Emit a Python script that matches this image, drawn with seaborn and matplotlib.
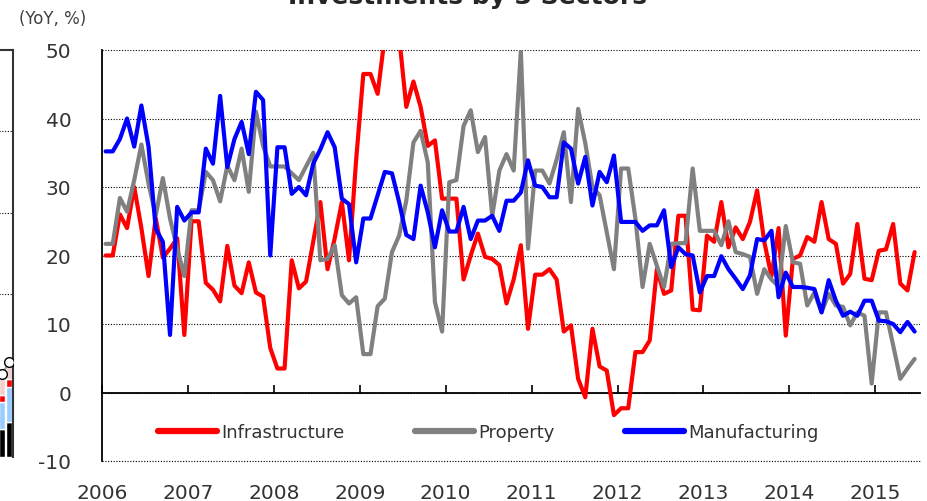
import numpy as np
import pandas as pd
import matplotlib.pyplot as plt
import seaborn as sns

# monthly YoY growth (%), Jan 2006 - Jun 2015
infra = [20, 20, 26, 24, 30, 24, 17, 25.5, 19.7, 21,
         22.5, 8.4, 25, 25, 16, 15, 13.3, 21.4, 15.6, 14.5,
         19, 14.6, 14, 6.5, 3.5, 3.5, 19.3, 15.2, 16.2, 22,
         27.8, 18, 22.5, 27.8, 19.3, 34, 46.5, 46.5, 43.6, 52,
         56, 52, 41.7, 45.4, 41.7, 36, 36.8, 28.3, 28.3, 28.3,
         16.5, 20, 23.2, 19.8, 19.5, 18.6, 13, 16.5, 21.5, 9.3,
         17.2, 17.2, 18, 16.5, 8.9, 9.8, 2, -0.7, 9.3, 3.8,
         3.2, -3.3, -2.3, -2.3, 5.9, 5.9, 7.6, 18, 14.4, 14.9,
         25.8, 25.8, 12.1, 12, 22.9, 22, 27.8, 21.2, 24.1, 22.4,
         24.9, 29.5, 22, 17, 24, 8.3, 19.5, 20, 22.7, 22,
         27.8, 22.4, 21.7, 15.9, 17.3, 24.6, 16.6, 16.4, 20.7, 20.9,
         24.6, 15.9, 14.9, 20.5]
prop = [21.7, 21.7, 28.4, 26.4, 31, 36.2, 30.5, 25.8, 31.3, 25.4,
        21, 17, 26.6, 26.6, 32.2, 31, 27.9, 33.1, 31, 35.6,
        29.3, 41, 36, 33, 33, 33, 32, 31, 33, 35,
        19.3, 19.5, 21.5, 14.2, 13, 13.9, 5.6, 5.6, 12.6, 13.7,
        20.5, 22.9, 28, 36.5, 38.2, 33.6, 13.2, 8.9, 30.7, 31,
        38.9, 41.2, 35.1, 37.3, 25.8, 32.4, 34.8, 32.4, 49.9, 21,
        32.4, 32.4, 30.5, 34, 38, 27.8, 41.4, 36.4, 30, 28.8,
        23.4, 18, 32.7, 32.7, 25.4, 15.4, 21.7, 18.5, 15.4, 21.7,
        21.8, 21.8, 32.7, 23.6, 23.6, 23.6, 21.5, 25, 20.5, 20.2,
        19.8, 14.4, 18, 16.5, 15.5, 24.3, 19, 18.8, 12.7, 14.6,
        11.7, 14.4, 12.7, 12.5, 9.8, 11.7, 11.2, 1.3, 11.7, 11.7,
        6.9, 2, 3.5, 4.9]
manu = [35.2, 35.2, 37, 40, 35.9, 41.9, 35.9, 23.9, 22, 8.4,
        27.1, 25.1, 26.3, 26.3, 35.6, 33.4, 43.3, 32.9, 37, 39.5,
        34.8, 43.9, 42.7, 20, 35.8, 35.8, 29, 30, 28.8, 33.4,
        35.5, 38, 35.8, 28.3, 27.5, 19, 25.4, 25.4, 28.8, 32.2,
        32, 27.8, 23, 22.4, 30.2, 26.3, 21.2, 26.6, 23.5, 23.5,
        27.1, 22.4, 25.1, 25.1, 25.8, 23.6, 28, 28, 29.2, 33.9,
        30.2, 30, 28.5, 28.5, 36.5, 35.6, 30.5, 34.4, 27.3, 32.2,
        30.7, 34.6, 24.9, 24.9, 24.9, 23.6, 24.4, 24.4, 26.6, 18.3,
        21.2, 20.2, 20, 14.6, 17, 17, 19.9, 18, 16.6, 15.1,
        17.1, 22.4, 22.2, 23.6, 13.9, 17.5, 15.4, 15.4, 15.3, 15.1,
        11.7, 16.4, 13.4, 11.2, 11.8, 11.2, 13.4, 13.4, 10.5, 10.4,
        10, 8.8, 10.3, 8.9]
years = list(range(2006, 2016))
yticks = [-10, 0, 10, 20, 30, 40, 50]
sectors = ['Infrastructure', 'Property', 'Manufacturing']
colors = ['#ff0000', '#808080', '#0000ff']

# edge of the neighbouring chart (only two bars visible)
frag_pos = [3, 4]
frag_black = [0.34, 0.43]
frag_blue = [0.33, 0.43]
frag_red = [0.09, 0.10]
frag_pink = [0.20, 0.16]
frag_total = [1.02, 1.17]

# x = months since Jan 2006, placed at mid-month
dates = pd.date_range('2006-01-01', periods=len(infra), freq='MS')
xpos = (dates.year - 2006) * 12 + dates.month - 0.5
df = pd.DataFrame({'m': xpos, 'Infrastructure': infra, 'Property': prop, 'Manufacturing': manu})
df = df.melt('m', var_name='sector', value_name='yoy')

sns.set_style('white')
plt.rcParams['font.family'] = ['DejaVu Sans']
plt.rcParams['axes.unicode_minus'] = False

W, H = 927, 502
fig = plt.figure(figsize=(W / 100, H / 100), dpi=100)
ax = fig.add_axes([102 / W, 1 - 462 / H, 818 / W, 411 / H])

sns.lineplot(data=df, x='m', y='yoy', hue='sector', hue_order=sectors,
             palette=dict(zip(sectors, colors)), linewidth=3, ax=ax, zorder=3)

ax.set_ylim(-10, 50)
ax.set_xlim(0, 114.25)
ax.set_yticks(yticks)
ax.yaxis.grid(True, linestyle=(0, (1, 1.5)), color='black', linewidth=0.8)
ax.xaxis.grid(False)
# bottom edge of the plot area is a dotted line too
ax.axhline(-10, linestyle=(0, (1, 1.5)), color='black', linewidth=0.8, clip_on=False)
for s in ['top', 'right', 'bottom']:
    ax.spines[s].set_visible(False)
ax.spines['left'].set_color('black')
ax.spines['left'].set_linewidth(1.3)
ax.set_xlabel('')
ax.set_ylabel('')

year_pos = [(y - 2006) * 12 for y in years]
ax.set_xticks(year_pos)
ax.set_xticklabels([str(y) for y in years])
ax.tick_params(axis='x', length=0, pad=16, labelsize=14.5, labelcolor='#333333')
ax.tick_params(axis='y', length=0, pad=22, labelsize=14.5, labelcolor='#333333')

# zero line with year ticks pointing up
zero = ax.secondary_xaxis(1 / 6)
zero.set_xticks(year_pos)
zero.tick_params(axis='x', direction='in', length=6, width=1.2, color='black',
                 labelbottom=False, labeltop=False)
zero.spines['bottom'].set_linewidth(1.3)
zero.spines['bottom'].set_color('black')

sns.move_legend(ax, 'center', bbox_to_anchor=(0.472, 0.0706), ncol=3, title=None,
                frameon=False, fontsize=13, handlelength=3.3, handletextpad=0.2,
                columnspacing=3.9)
for h in ax.get_legend().get_lines():
    h.set_linewidth(4.5)
for t in ax.get_legend().get_texts():
    t.set_color('#333333')

fig.text(53 / W, 1 - 19 / H, '(YoY, %)', ha='center', va='center', fontsize=12, color='#404040')
fig.text(468 / W, 1 - 4 / H, 'Investments by 3 Sectors', ha='center', va='baseline',
         fontsize=18, fontweight='bold')

# fragment of the chart on the left
axf = fig.add_axes([-23 / W, 1 - 458 / H, 36 / W, 407 / H])
b = np.zeros(2)
for vals, c in [(frag_black, 'black'), (frag_blue, '#99ccff'), (frag_red, '#ff0000'), (frag_pink, '#f2d0cf')]:
    axf.bar(frag_pos, vals, bottom=b, width=0.85, color=c, zorder=2)
    b = b + np.array(vals)
axf.plot(frag_pos, frag_total, color='#a0a0a0', marker='o', markersize=7,
         markerfacecolor='white', markeredgecolor='black', zorder=3)
axf.set_xlim(-0.5, 4.5)
axf.set_ylim(0, 5)
axf.set_yticks([2, 3, 4])
axf.yaxis.grid(True, linestyle=(0, (1, 1.5)), color='black', linewidth=0.8)
axf.set_xticks([])
axf.tick_params(axis='y', length=0, labelleft=False)
for s in ['left', 'bottom']:
    axf.spines[s].set_visible(False)
for s in ['top', 'right']:
    axf.spines[s].set_color('#333333')
    axf.spines[s].set_linewidth(1.5)

fig.savefig('out.png', dpi=100)
